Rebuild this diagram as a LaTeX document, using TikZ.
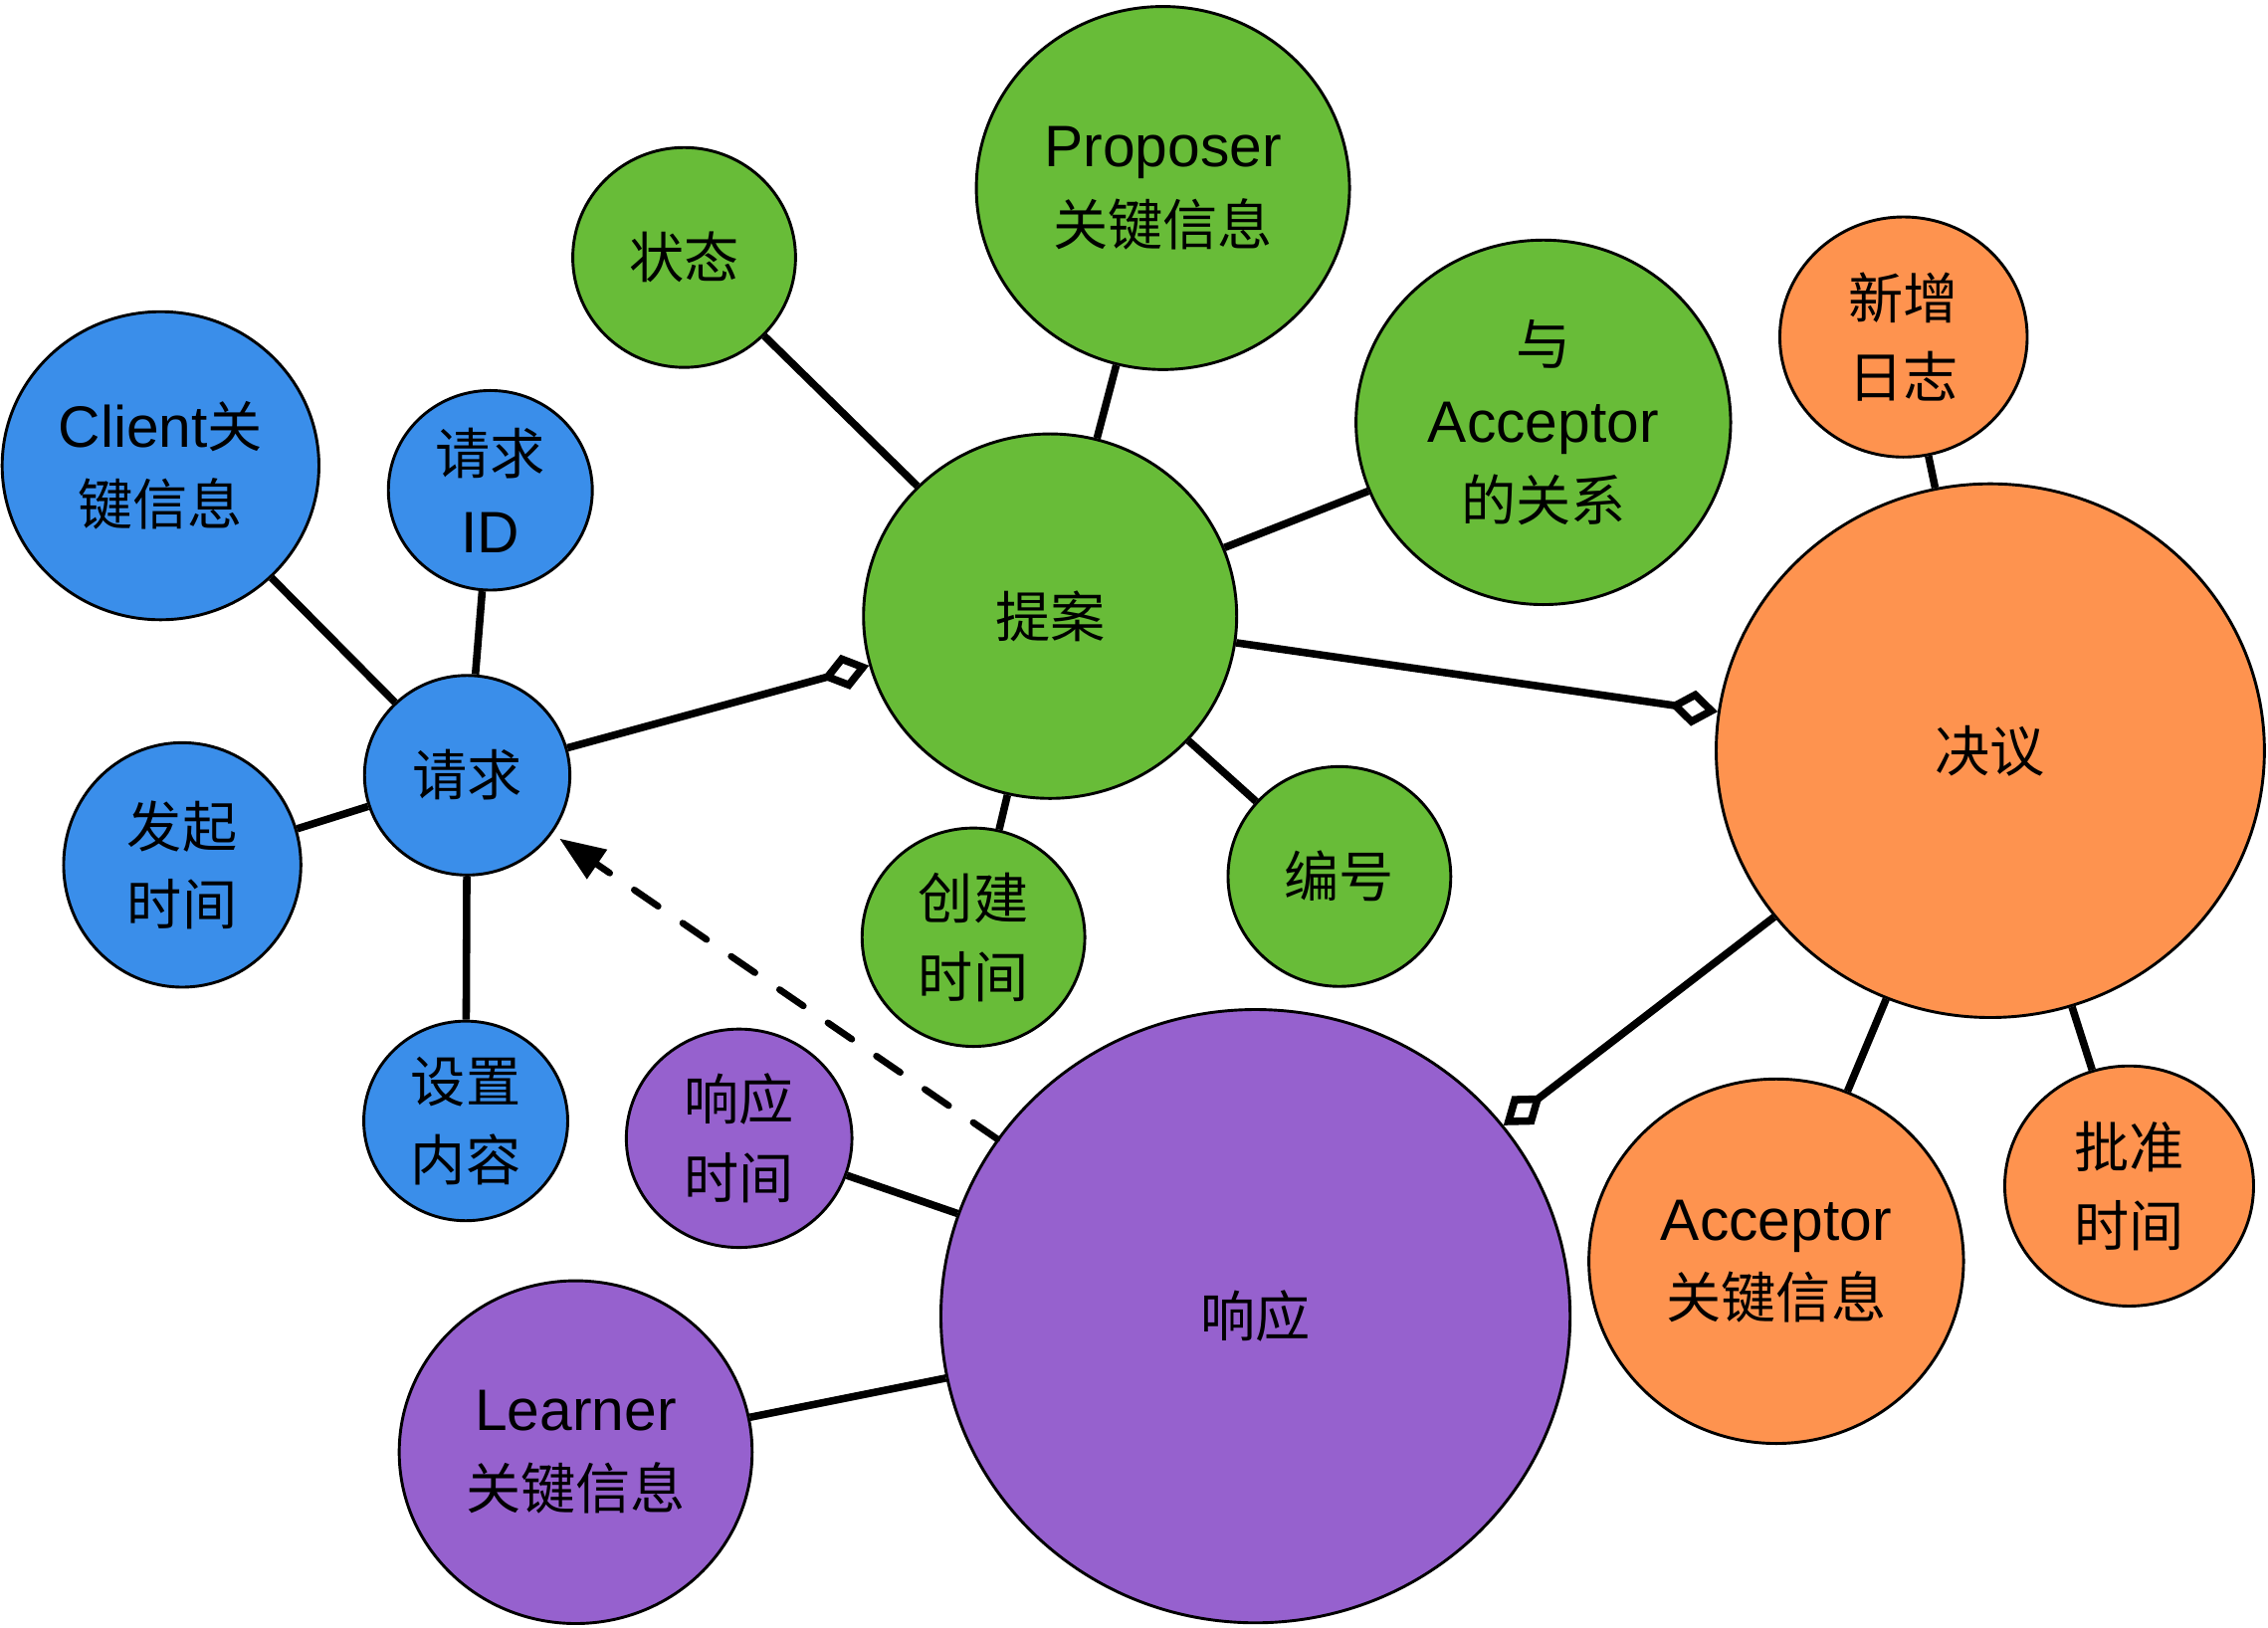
\documentclass[tikz,border=0pt]{standalone}
\usepackage{fontspec}
\setmainfont{Liberation Sans}
\newfontfamily\cjk[Scale=0.94]{Noto Sans CJK SC}
\usetikzlibrary{shapes.geometric,arrows.meta}

\definecolor{cblue}{HTML}{3A8EEA}
\definecolor{cgreen}{HTML}{68BC38}
\definecolor{corange}{HTML}{FE934F}
\definecolor{cpurple}{HTML}{9661CE}

\tikzset{
  bub/.style={ellipse, draw=black, line width=1pt, inner sep=0pt, align=center,
    font=\fontsize{20.2}{27}\selectfont},
  bl/.style={bub, fill=cblue},
  gr/.style={bub, fill=cgreen},
  og/.style={bub, fill=corange},
  pu/.style={bub, fill=cpurple},
  link/.style={line width=2.6pt},
  agg/.style={link, -{Diamond[open, length=17pt, width=12.5pt]}},
  dep/.style={line width=2.3pt, dash pattern=on 10pt off 10.3pt, line cap=round,
    -{Triangle[length=15.8pt, width=11.8pt]}, shorten >=3pt},
}

\begin{document}
\begin{tikzpicture}[x=0.5pt, y=-0.5pt]
\useasboundingbox (0,0) rectangle (1568,1125);

% request cluster
\node[bl, minimum width=109.5pt, minimum height=106.5pt] (client) at (111,322) {Client\cjk{关}\\\cjk{键信息}};
\node[bl, minimum width=70.5pt, minimum height=69pt] (reqid) at (339,339) {\cjk{请求}\\ID};
\node[bl, minimum width=71pt, minimum height=69pt] (req) at (323,536) {\cjk{请求}};
\node[bl, minimum width=82pt, minimum height=84.5pt] (start) at (126,598) {\cjk{发起}\\\cjk{时间}};
\node[bl, minimum width=70.5pt, minimum height=69pt] (content) at (322,775) {\cjk{设置}\\\cjk{内容}};

% proposal cluster
\node[gr, minimum width=77pt, minimum height=76pt] (state) at (473,178) {\cjk{状态}};
\node[gr, minimum width=129pt, minimum height=125.5pt] (proposer) at (804,130) {Proposer\\\cjk{关键信息}};
\node[gr, minimum width=129pt, minimum height=126pt] (prop) at (726,426) {\cjk{提案}};
\node[gr, minimum width=129.5pt, minimum height=126pt] (rel) at (1067,292) {\cjk{与}\\Acceptor\\\cjk{的关系}};
\node[gr, minimum width=77pt, minimum height=75.5pt] (ctime) at (673,648) {\cjk{创建}\\\cjk{时间}};
\node[gr, minimum width=77pt, minimum height=76pt] (num) at (926,606) {\cjk{编号}};

% resolution cluster
\node[og, minimum width=85.5pt, minimum height=83pt] (log) at (1316,233) {\cjk{新增}\\\cjk{日志}};
\node[og, minimum width=189.5pt, minimum height=184.5pt] (res) at (1376,519) {\cjk{决议}};
\node[og, minimum width=129.5pt, minimum height=126pt] (acc) at (1228,872) {Acceptor\\\cjk{关键信息}};
\node[og, minimum width=86pt, minimum height=83pt] (atime) at (1472,820) {\cjk{批准}\\\cjk{时间}};

% response cluster
\node[pu, minimum width=217.5pt, minimum height=212pt] (resp) at (868,910) {\cjk{响应}};
\node[pu, minimum width=78pt, minimum height=75.5pt] (rtime) at (511,787) {\cjk{响应}\\\cjk{时间}};
\node[pu, minimum width=122pt, minimum height=118.5pt] (learner) at (398,1004) {Learner\\\cjk{关键信息}};

% plain links
\draw[link] (client) -- (req);
\draw[link] (reqid) -- (req);
\draw[link] (start) -- (req);
\draw[link] (content) -- (req);
\draw[link] (state) -- (prop);
\draw[link] (proposer) -- (prop);
\draw[link] (rel) -- (prop);
\draw[link] (ctime) -- (prop);
\draw[link] (num) -- (prop);
\draw[link] (log) -- (res);
\draw[link] (acc) -- (res);
\draw[link] (atime) -- (res);
\draw[link] (rtime) -- (resp);
\draw[link] (learner) -- (resp);

% aggregations
\draw[agg] (req) -- (prop);
\draw[agg] (prop) -- (res);
\draw[agg] (res) -- (resp);

% dependency
\draw[dep] (resp) -- (req);
\end{tikzpicture}
\end{document}
